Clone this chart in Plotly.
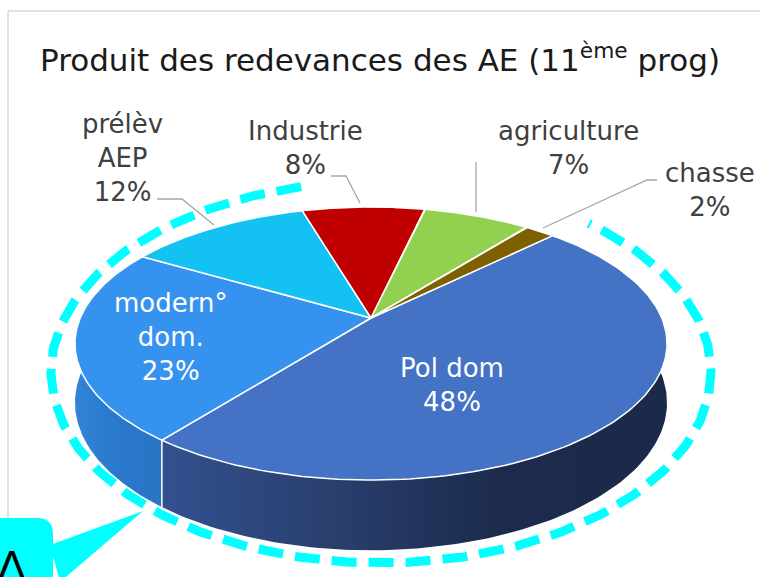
import numpy as np
import plotly.graph_objects as go

# ---------------- data ----------------
names = ["Pol dom", "modern°<br>dom.", "prélèv<br>AEP", "Industrie", "agriculture", "chasse"]
values = [48, 23, 12, 8, 7, 2]
top_colors = ["#4472c4", "#3592ee", "#13c2f3", "#c00000", "#92d050", "#7f6000"]
side_colors = {0: ["#33518f", "#293f6e", "#1c2b4d", "#1b2a4a"], 1: ["#3284d6", "#2a78cb", "#2a74c4"]}
label_colors = ["white", "white", "#404040", "#404040", "#404040", "#404040"]
title_text = "Produit des redevances des AE (11<sup>ème</sup> prog)"

# ---------------- geometry of the 3D pie (pixel space) ----------------
CX, CY = 371, 318      # apex (projected centre)
A, B = 290.8, 131.8    # horizontal / vertical radii
M = 0.187              # perspective factor
H = 57                 # depth of the pie
START = 45             # angle of first slice edge (deg, counter-clockwise from +x)
FONT = "DejaVu Sans"


def proj(theta_deg, depth=0.0):
    t = np.radians(theta_deg)
    u = np.cos(t)
    v = -np.sin(t)
    w = 1 - M * v
    return CX + A * u / w, CY + (B * v + H * depth) / w


fig = go.Figure()

# slice angles (clockwise)
total = float(sum(values))
edges = [START]
for v in values:
    edges.append(edges[-1] - v / total * 360.0)

# side walls (front part only)
VIS_LO, VIS_HI = -190, 10
for i, v in enumerate(values):
    a0, a1 = edges[i], edges[i + 1]
    lo, hi = max(a1, VIS_LO), min(a0, VIS_HI)
    if lo >= hi:
        continue
    th = np.linspace(lo, hi, 120)
    xt, yt = proj(th, 0)
    xb, yb = proj(th[::-1], 1)
    xs = np.concatenate([xt, xb, xt[:1]])
    ys = np.concatenate([yt, yb, yt[:1]])
    cols = side_colors.get(i, [top_colors[i], top_colors[i]])
    cs = [[k / (len(cols) - 1), c] for k, c in enumerate(cols)]
    fig.add_trace(go.Scatter(x=xs, y=ys, mode="lines", fill="toself",
                             fillgradient=dict(type="horizontal", colorscale=cs),
                             line=dict(width=0), hoverinfo="skip", showlegend=False))

# vertical white edges on the side where slices meet
for e in edges:
    if VIS_LO < e < VIS_HI:
        x0, y0 = proj(e, 0)
        x1, y1 = proj(e, 1)
        fig.add_trace(go.Scatter(x=[x0, x1], y=[y0, y1], mode="lines",
                                 line=dict(color="white", width=1.5),
                                 hoverinfo="skip", showlegend=False))

# top faces
for i, v in enumerate(values):
    a0, a1 = edges[i], edges[i + 1]
    th = np.linspace(a0, a1, 150)
    xr, yr = proj(th, 0)
    xs = np.concatenate([[CX], xr, [CX]])
    ys = np.concatenate([[CY], yr, [CY]])
    fig.add_trace(go.Scatter(x=xs, y=ys, mode="lines", fill="toself",
                             fillcolor=top_colors[i],
                             line=dict(color="white", width=1.5),
                             hoverinfo="skip", showlegend=False))

# dashed cyan highlight ellipse
t = np.radians(np.linspace(104, 411, 400))
fig.add_trace(go.Scatter(x=381 + 330 * np.cos(t), y=372 - 191 * np.sin(t), mode="lines",
                         line=dict(color="#00ffff", width=9, dash="25px,12px"),
                         hoverinfo="skip", showlegend=False))

# ---------------- labels ----------------
label_pos = [(452, 385), (170, 337), (122, 158), (305, 148), (568, 148), (710, 190)]
for i, v in enumerate(values):
    x, y = label_pos[i]
    fig.add_annotation(x=x, y=y, text=f"{names[i]}<br>{v}%", showarrow=False,
                       xanchor="center", yanchor="middle", align="center",
                       font=dict(family=FONT, size=26, color=label_colors[i]))

fig.add_annotation(x=38, y=58, text=title_text, showarrow=False, xanchor="left",
                   yanchor="middle", font=dict(family=FONT, size=31, color="#1a1a1a"))

# leader lines
leaders = [
    "M 157,199 L 182,199 L 214,225",
    "M 331,176 L 346,176 L 360,203",
    "M 476,162 L 476,212",
    "M 657,180 L 647,180 L 543,228",
]
for p in leaders:
    fig.add_shape(type="path", path=p, xref="x", yref="y",
                  line=dict(color="#a6a6a6", width=1.3))

# frame border
fig.add_shape(type="line", x0=8, y0=11, x1=760, y1=11, xref="x", yref="y",
              line=dict(color="#d9d9d9", width=1.5))
fig.add_shape(type="line", x0=8, y0=11, x1=8, y1=577, xref="x", yref="y",
              line=dict(color="#d9d9d9", width=1.5))

# callout
fig.add_shape(type="path", path="M -20,518 L 37,518 Q 53,518 53,534 L 53,600 L -20,600 Z",
              xref="x", yref="y", fillcolor="#00ffff", line=dict(width=0), layer="above")
fig.add_shape(type="path", path="M 50,545 L 143,511 L 60,582 Z",
              xref="x", yref="y", fillcolor="#00ffff", line=dict(width=0), layer="above")
fig.add_annotation(x=11, y=566, text="Δ", showarrow=False, xanchor="center",
                   yanchor="middle", font=dict(family="Liberation Sans", size=44, color="black"))

fig.update_layout(
    width=760, height=577, margin=dict(l=0, r=0, t=0, b=0),
    paper_bgcolor="white", plot_bgcolor="white",
    xaxis=dict(range=[0, 760], visible=False, fixedrange=True),
    yaxis=dict(range=[577, 0], visible=False, fixedrange=True),
    showlegend=False,
)

fig.write_html("out.html")
